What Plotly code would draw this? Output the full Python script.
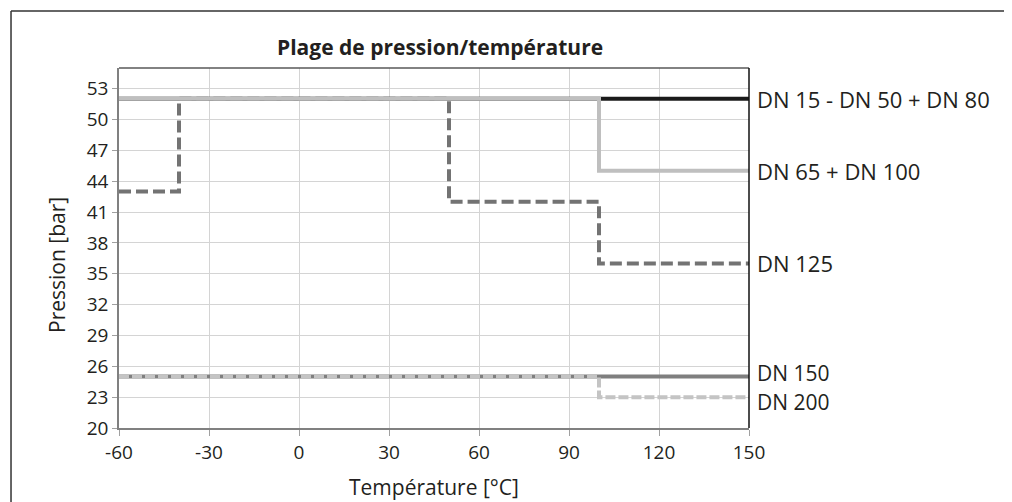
import plotly.graph_objects as go

# ---- data ----
temp_ticks = [-60, -30, 0, 30, 60, 90, 120, 150]
press_ticks = [20, 23, 26, 29, 32, 35, 38, 41, 44, 47, 50, 53]

dn15_x = [-60, 150]
dn15_y = [52, 52]
dn65_x = [-60, 100, 150]
dn65_y = [52, 45, 45]
dn125_x = [-60, -40, 50, 100, 150]
dn125_y = [43, 52, 42, 36, 36]
dn150_x = [-60, 150]
dn150_y = [25, 25]
dn200_x = [-60, 100, 150]
dn200_y = [25, 23, 23]

labels = ["DN 15 - DN 50 + DN 80", "DN 65 + DN 100", "DN 125", "DN 150", "DN 200"]

FONT = "Open Sans"
TXT = "#231f20"

fig = go.Figure()
# draw order: black under light grey, dashed under grey
fig.add_trace(go.Scatter(x=dn15_x, y=dn15_y, mode="lines", line_shape="hv",
                         line=dict(color="#1a1a1a", width=4), name=labels[0]))
fig.add_trace(go.Scatter(x=dn125_x, y=dn125_y, mode="lines", line_shape="hv",
                         line=dict(color="#737373", width=4, dash="12px,5px"), name=labels[2]))
fig.add_trace(go.Scatter(x=dn65_x, y=dn65_y, mode="lines", line_shape="hv",
                         line=dict(color="#bfbfbf", width=4), name=labels[1]))
fig.add_trace(go.Scatter(x=dn150_x, y=dn150_y, mode="lines", line_shape="hv",
                         line=dict(color="#7f7f7f", width=4), name=labels[3]))
fig.add_trace(go.Scatter(x=dn200_x, y=dn200_y, mode="lines", line_shape="hv",
                         line=dict(color="#c4c4c4", width=4, dash="10px,3px"), name=labels[4]))

# right-hand labels at the end of each series
ends = [(dn15_y[-1], 0, 22), (dn65_y[-1], 0, 22), (dn125_y[-1], 0, 22),
        (dn150_y[-1], 4, 21), (dn200_y[-1], -5, 21)]
annotations = []
for lab, (yv, ys, fs) in zip(labels, ends):
    annotations.append(dict(x=150, y=yv, xref="x", yref="y", text=lab, showarrow=False,
                            xanchor="left", yanchor="middle", xshift=6, yshift=ys,
                            font=dict(family=FONT, size=fs, color=TXT)))

annotations += [
    dict(text="<b>Plage de pression/température</b>", x=0.5095, y=1.058, xref="paper", yref="paper",
         showarrow=False, xanchor="center", yanchor="middle",
         font=dict(family=FONT, size=21, color=TXT)),
    dict(text="Température [°C]", x=0.5, y=-0.164, xref="paper", yref="paper",
         showarrow=False, xanchor="center", yanchor="middle",
         font=dict(family=FONT, size=21, color=TXT)),
    dict(text="Pression [bar]", x=-0.0984, y=0.4528, xref="paper", yref="paper",
         showarrow=False, xanchor="center", yanchor="middle", textangle=-90,
         font=dict(family=FONT, size=21, color=TXT)),
]

shapes = [
    # outer frame (left and top edges only)
    dict(type="line", xref="paper", yref="paper", x0=-0.1714, x1=-0.1714, y0=1.1583, y1=-0.25,
         line=dict(color="#333333", width=1.5)),
    dict(type="line", xref="paper", yref="paper", x0=-0.1714, x1=1.45, y0=1.1583, y1=1.1583,
         line=dict(color="#333333", width=1.5)),
    # plot box top and right
    dict(type="line", xref="paper", yref="paper", x0=0, x1=1, y0=1, y1=1,
         line=dict(color="#595959", width=1.5)),
    dict(type="line", xref="paper", yref="paper", x0=1, x1=1, y0=0, y1=1,
         line=dict(color="#111111", width=1.5)),
]

# page body has an 8px margin, so the figure is 8px smaller and shifted
fig.update_layout(
    width=1004, height=494,
    margin=dict(l=111, r=263, t=60, b=74),
    paper_bgcolor="white", plot_bgcolor="white",
    showlegend=False,
    annotations=annotations,
    shapes=shapes,
    font=dict(family=FONT, color=TXT),
)
fig.update_xaxes(range=[-60, 150], tickvals=temp_ticks, ticktext=[str(v) for v in temp_ticks],
                 showgrid=True, gridcolor="#d4d4d4", gridwidth=1,
                 showline=True, linecolor="#808080", linewidth=2,
                 ticks="outside", ticklen=6, tickcolor="#a0a0a0",
                 tickfont=dict(family=FONT, size=19, color=TXT), zeroline=False)
fig.update_yaxes(range=[20, 55], tickvals=press_ticks, ticktext=[str(v) for v in press_ticks],
                 showgrid=True, gridcolor="#d4d4d4", gridwidth=1,
                 showline=True, linecolor="#808080", linewidth=1.5,
                 ticks="outside", ticklen=5, tickcolor="#a0a0a0",
                 tickfont=dict(family=FONT, size=19, color=TXT), zeroline=False)

fig.write_html("out.html")
